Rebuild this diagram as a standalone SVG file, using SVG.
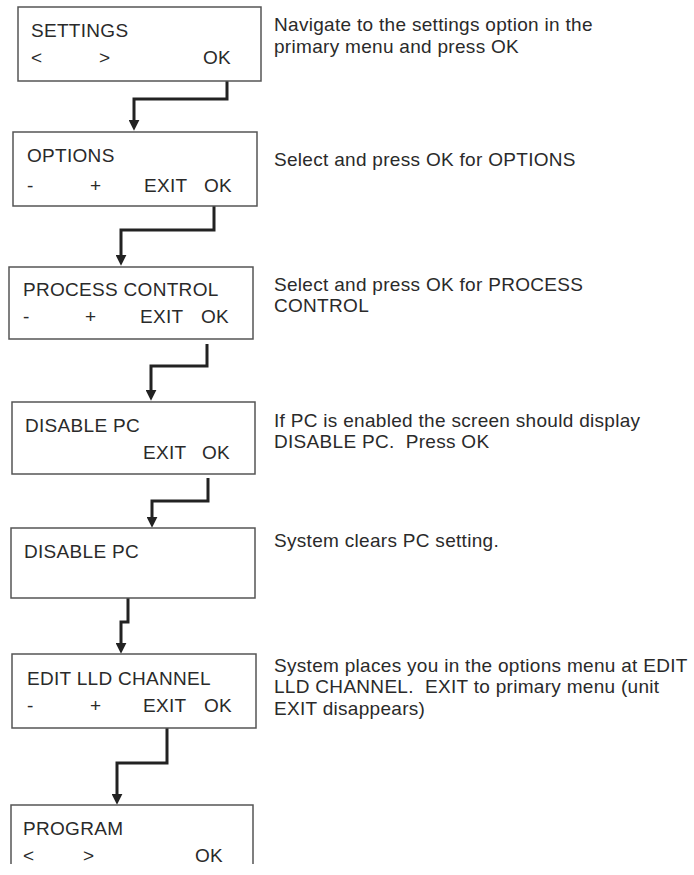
<svg xmlns="http://www.w3.org/2000/svg" width="694" height="875" viewBox="0 0 694 875">
<style>
  text { font-family: "Liberation Sans", Arial, sans-serif; font-size: 19px; letter-spacing: 0.3px; fill: #2a2a2a; white-space: pre; }
  .box { fill: #fff; stroke: #555; stroke-width: 1.5; }
  .conn { fill: none; stroke: #222; stroke-width: 3; stroke-linejoin: miter; }
</style>
<defs>
  <marker id="arr" viewBox="0 0 10 10" refX="2" refY="5" markerWidth="11" markerHeight="11" markerUnits="userSpaceOnUse" orient="auto">
    <path d="M0,0 L10,5 L0,10 z" fill="#222"/>
  </marker>
</defs>
<rect width="694" height="875" fill="#fff"/>

<g id="connectors">
  <path class="conn" d="M227,81 V99 H134 V122" marker-end="url(#arr)"/>
  <path class="conn" d="M214,206 V230 H121 V257" marker-end="url(#arr)"/>
  <path class="conn" d="M207,344 V366 H151 V392" marker-end="url(#arr)"/>
  <path class="conn" d="M208,478 V501 H152 V519" marker-end="url(#arr)"/>
  <path class="conn" d="M128,598 V622 H121 V645" marker-end="url(#arr)"/>
  <path class="conn" d="M167,728 V763 H117 V796" marker-end="url(#arr)"/>
</g>

<g id="node-settings">
  <rect class="box" x="18" y="7" width="243" height="74"/>
  <text x="31" y="37">SETTINGS</text>
  <text x="31" y="64">&lt;</text>
  <text x="99" y="64">&gt;</text>
  <text x="203" y="64">OK</text>
  <text x="274" y="31">Navigate to the settings option in the</text>
  <text x="274" y="53">primary menu and press OK</text>
</g>

<g id="node-options">
  <rect class="box" x="13" y="132" width="244" height="74"/>
  <text x="27" y="162">OPTIONS</text>
  <text x="27" y="192">-</text>
  <text x="90" y="192">+</text>
  <text x="144" y="192">EXIT</text>
  <text x="204" y="192">OK</text>
  <text x="274" y="166">Select and press OK for OPTIONS</text>
</g>

<g id="node-process-control">
  <rect class="box" x="9" y="267" width="244" height="72"/>
  <text x="23" y="296">PROCESS CONTROL</text>
  <text x="23" y="323">-</text>
  <text x="85" y="323">+</text>
  <text x="140" y="323">EXIT</text>
  <text x="201" y="323">OK</text>
  <text x="274" y="291">Select and press OK for PROCESS</text>
  <text x="274" y="312">CONTROL</text>
</g>

<g id="node-disable-pc-1">
  <rect class="box" x="12" y="402" width="243" height="72"/>
  <text x="25" y="432">DISABLE PC</text>
  <text x="143" y="459">EXIT</text>
  <text x="202" y="459">OK</text>
  <text x="274" y="427">If PC is enabled the screen should display</text>
  <text x="274" y="448" xml:space="preserve">DISABLE PC.  Press OK</text>
</g>

<g id="node-disable-pc-2">
  <rect class="box" x="11" y="528" width="244" height="70"/>
  <text x="24" y="558">DISABLE PC</text>
  <text x="274" y="547">System clears PC setting.</text>
</g>

<g id="node-edit-lld">
  <rect class="box" x="12" y="654" width="244" height="74"/>
  <text x="27" y="685">EDIT LLD CHANNEL</text>
  <text x="27" y="712">-</text>
  <text x="90" y="712">+</text>
  <text x="143" y="712">EXIT</text>
  <text x="204" y="712">OK</text>
  <text x="274" y="672">System places you in the options menu at EDIT</text>
  <text x="274" y="693" xml:space="preserve">LLD CHANNEL.  EXIT to primary menu (unit</text>
  <text x="274" y="715">EXIT disappears)</text>
</g>

<g id="node-program">
  <path class="box" d="M11,864 V805 H253 V864"/>
  <text x="23" y="835">PROGRAM</text>
  <text x="23" y="862">&lt;</text>
  <text x="83" y="862">&gt;</text>
  <text x="195" y="862">OK</text>
</g>
</svg>
